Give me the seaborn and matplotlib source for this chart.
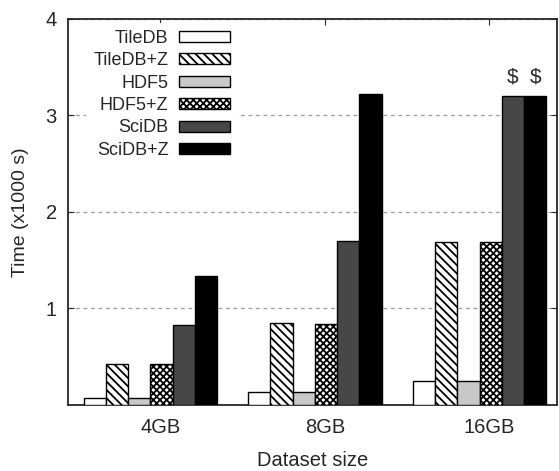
import pandas as pd
import seaborn as sns
import matplotlib.pyplot as plt
from matplotlib.patches import Patch

# values (x1000 s)
sizes = ['4GB', '8GB', '16GB']
systems = ['TileDB', 'TileDB+Z', 'HDF5', 'HDF5+Z', 'SciDB', 'SciDB+Z']
tiledb = [0.07, 0.13, 0.24]
tiledb_z = [0.42, 0.85, 1.69]
hdf5 = [0.07, 0.13, 0.24]
hdf5_z = [0.42, 0.84, 1.69]
scidb = [0.83, 1.70, 3.20]
scidb_z = [1.33, 3.22, 3.20]
timeout_marks = [('16GB', 'SciDB'), ('16GB', 'SciDB+Z')]

colors = {'TileDB': 'white', 'TileDB+Z': 'white', 'HDF5': '#c8c8c8',
          'HDF5+Z': 'white', 'SciDB': '#474747', 'SciDB+Z': 'black'}
hatches = {'TileDB': '', 'TileDB+Z': '\\\\\\\\', 'HDF5': '',
           'HDF5+Z': 'xxxxx', 'SciDB': '', 'SciDB+Z': ''}

series = [tiledb, tiledb_z, hdf5, hdf5_z, scidb, scidb_z]
rows = []
for name, vals in zip(systems, series):
    for s, v in zip(sizes, vals):
        rows.append({'size': s, 'system': name, 'time': v})
df = pd.DataFrame(rows)

sns.set_style('ticks')
plt.rcParams['font.family'] = ['Liberation Sans', 'DejaVu Sans']
plt.rcParams['hatch.linewidth'] = 1.3

fig = plt.figure(figsize=(5.59, 4.71), dpi=100)
ax = fig.add_axes([0.1216, 0.141, 0.8748, 0.8187])

sns.barplot(data=df, x='size', y='time', hue='system', order=sizes,
            hue_order=systems, palette=colors, width=0.81, saturation=1,
            edgecolor='black', linewidth=1.0, legend=False, ax=ax)

for cont, name in zip(ax.containers, systems):
    for bar in cont:
        bar.set_hatch(hatches[name])
        bar.set_zorder(3)

# "$" markers over bars that hit the limit
for cont, name in zip(ax.containers, systems):
    for s, bar in zip(sizes, cont):
        if (s, name) in timeout_marks:
            ax.text(bar.get_x() + bar.get_width() / 2, bar.get_height() + 0.1, '$',
                    ha='center', va='bottom', fontsize=15)

ax.set_ylim(0, 4)
ax.set_xlim(-0.5, 2.47)
ax.set_yticks([1, 2, 3, 4])
ax.set_xticks([0.06, 1.06, 2.06])
ax.set_xticklabels(sizes)
ax.tick_params(axis='both', direction='in', labelsize=14.5, length=4,
               top=True, right=True, pad=8)
ax.tick_params(axis='x', pad=10)
ax.grid(axis='y', linestyle=(0, (3, 3)), color='#999999', linewidth=0.9, zorder=0)
ax.set_axisbelow(True)
for sp in ax.spines.values():
    sp.set_linewidth(1.3)

ax.set_xlabel('Dataset size', fontsize=14.5, labelpad=10)
ax.set_ylabel('Time (x1000 s)', fontsize=14, labelpad=12)

handles = [Patch(facecolor=colors[n], edgecolor='black', hatch=hatches[n], linewidth=1.0)
           for n in systems]
leg = ax.legend(handles, systems, loc='upper left', markerfirst=False,
                fontsize=13, handlelength=2.8, handleheight=0.55,
                labelspacing=0.3, handletextpad=0.6, borderaxespad=0.2,
                frameon=True, facecolor='white', edgecolor='none', framealpha=1,
                fancybox=False, bbox_to_anchor=(0.03, 1.0))
leg.set_zorder(5)

fig.savefig('out.png', dpi=100)
